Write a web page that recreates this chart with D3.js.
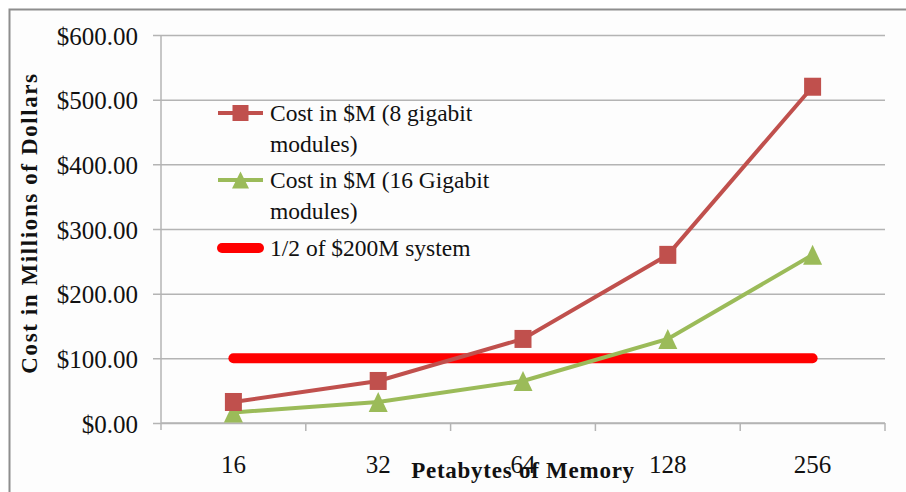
<!DOCTYPE html>
<html>
<head>
<meta charset="utf-8">
<script src="https://cdn.jsdelivr.net/npm/d3@7/dist/d3.min.js"></script>
<style>
  html, body { margin: 0; padding: 0; background: #ffffff; }
  svg { display: block; }
  text { font-family: "Liberation Serif", "Times New Roman", serif; fill: #111; }
</style>
</head>
<body>
<svg id="chart" width="906" height="492"></svg>
<script>
// Memory size categories (petabytes)
const categories = ["16", "32", "64", "128", "256"];
// Cost in millions of dollars
const cost8Gb = [32.5, 65, 130, 260, 520];
const cost16Gb = [16.25, 32.5, 65, 130, 260];
const halfSystem = [100, 100, 100, 100, 100];
const yTickValues = [0, 100, 200, 300, 400, 500, 600];

const seriesNames = [
  ["Cost in $M (8 gigabit", "modules)"],
  ["Cost in $M (16 Gigabit", "modules)"],
  ["1/2 of $200M system"]
];

const colors = { c8: "#c0504d", c16: "#9bbb59", half: "#ff0000", grid: "#b4b4b4" };

const svg = d3.select("#chart");

// frame around the chart area
svg.append("rect")
  .attr("x", 9.5).attr("y", 9.5)
  .attr("width", 1000).attr("height", 1000)
  .attr("fill", "#fdfdfd")
  .attr("stroke", "#8e8e8e").attr("stroke-width", 2);

const plot = { left: 161, right: 885, top: 35, bottom: 423 };

const x = d3.scaleBand().domain(categories).range([plot.left, plot.right]);
const cx = c => x(c) + x.bandwidth() / 2;
const y = d3.scaleLinear().domain([0, 600]).range([plot.bottom, plot.top]);

// y axis with gridlines
const yAxis = d3.axisLeft(y)
  .tickValues(yTickValues)
  .tickSize(-(plot.right - plot.left))
  .tickSizeOuter(0)
  .tickPadding(23)
  .tickFormat(d => "$" + d3.format(".2f")(d));

const gy = svg.append("g")
  .attr("transform", `translate(${plot.left},0)`)
  .call(yAxis);
gy.select(".domain").remove();
gy.selectAll(".tick line")
  .attr("x1", -8)
  .attr("stroke", colors.grid).attr("stroke-width", 1.5);
gy.selectAll(".tick text")
  .attr("font-size", 25)
  .attr("font-family", "Liberation Serif")
  .attr("fill", "#111")
  .attr("dy", "0.36em");

// vertical axis line
svg.append("line")
  .attr("x1", plot.left).attr("x2", plot.left)
  .attr("y1", y(600)).attr("y2", plot.bottom + 7)
  .attr("stroke", colors.grid).attr("stroke-width", 1.5);

// x axis: ticks sit between categories
const xBounds = categories.map(c => x(c) + x.bandwidth());
const gx = svg.append("g");
gx.append("line")
  .attr("x1", plot.left).attr("x2", plot.right)
  .attr("y1", plot.bottom).attr("y2", plot.bottom)
  .attr("stroke", colors.grid).attr("stroke-width", 1.5);
gx.selectAll("line.tick")
  .data(xBounds)
  .join("line")
  .attr("class", "tick")
  .attr("x1", d => d).attr("x2", d => d)
  .attr("y1", plot.bottom).attr("y2", plot.bottom + 8)
  .attr("stroke", colors.grid).attr("stroke-width", 1.5);
gx.selectAll("text")
  .data(categories)
  .join("text")
  .attr("x", d => cx(d))
  .attr("y", 473)
  .attr("text-anchor", "middle")
  .attr("font-size", 25)
  .text(d => d);

// series lines
const line = d3.line().x((d, i) => cx(categories[i])).y(d => y(d));

svg.append("path")
  .datum(halfSystem)
  .attr("d", line)
  .attr("fill", "none")
  .attr("stroke", colors.half)
  .attr("stroke-width", 10)
  .attr("stroke-linecap", "round");

svg.append("path")
  .datum(cost16Gb)
  .attr("d", line)
  .attr("fill", "none")
  .attr("stroke", colors.c16)
  .attr("stroke-width", 4);

svg.append("path")
  .datum(cost8Gb)
  .attr("d", line)
  .attr("fill", "none")
  .attr("stroke", colors.c8)
  .attr("stroke-width", 4);

// markers
const triPath = (px, py, w, h) =>
  `M${px},${py - h / 2}L${px + w / 2},${py + h / 2}L${px - w / 2},${py + h / 2}Z`;

svg.append("g").selectAll("path")
  .data(cost16Gb)
  .join("path")
  .attr("d", (d, i) => triPath(cx(categories[i]), y(d), 19, 20))
  .attr("fill", colors.c16);

svg.append("g").selectAll("rect")
  .data(cost8Gb)
  .join("rect")
  .attr("x", (d, i) => cx(categories[i]) - 8.5)
  .attr("y", d => y(d) - 9)
  .attr("width", 17).attr("height", 18)
  .attr("fill", colors.c8);

// legend
const legend = svg.append("g");
const legX0 = 218, legX1 = 263, legTextX = 270;

legend.append("line")
  .attr("x1", legX0).attr("x2", legX1).attr("y1", 113).attr("y2", 113)
  .attr("stroke", colors.c8).attr("stroke-width", 4);
legend.append("rect")
  .attr("x", (legX0 + legX1) / 2 - 8).attr("y", 113 - 8)
  .attr("width", 16).attr("height", 16)
  .attr("fill", colors.c8);

legend.append("line")
  .attr("x1", legX0).attr("x2", legX1).attr("y1", 180).attr("y2", 180)
  .attr("stroke", colors.c16).attr("stroke-width", 4);
legend.append("path")
  .attr("d", triPath((legX0 + legX1) / 2, 180, 17, 17))
  .attr("fill", colors.c16);

legend.append("line")
  .attr("x1", legX0 + 4).attr("x2", legX1 - 4).attr("y1", 248).attr("y2", 248)
  .attr("stroke", colors.half).attr("stroke-width", 10)
  .attr("stroke-linecap", "round");

const legendBaselines = [[121, 152], [188, 219], [256]];
seriesNames.forEach((lines, i) => {
  lines.forEach((t, j) => {
    legend.append("text")
      .attr("x", legTextX)
      .attr("y", legendBaselines[i][j])
      .attr("font-size", 23.5)
      .text(t);
  });
});

// axis titles
svg.append("text")
  .attr("transform", "translate(37,223) rotate(-90)")
  .attr("text-anchor", "middle")
  .attr("font-size", 23)
  .attr("font-weight", "bold")
  .attr("letter-spacing", 1.6)
  .text("Cost in Millions of Dollars");

svg.append("text")
  .attr("x", 523)
  .attr("y", 478)
  .attr("text-anchor", "middle")
  .attr("font-size", 23)
  .attr("font-weight", "bold")
  .attr("letter-spacing", 0.75)
  .text("Petabytes of Memory");
</script>
</body>
</html>
